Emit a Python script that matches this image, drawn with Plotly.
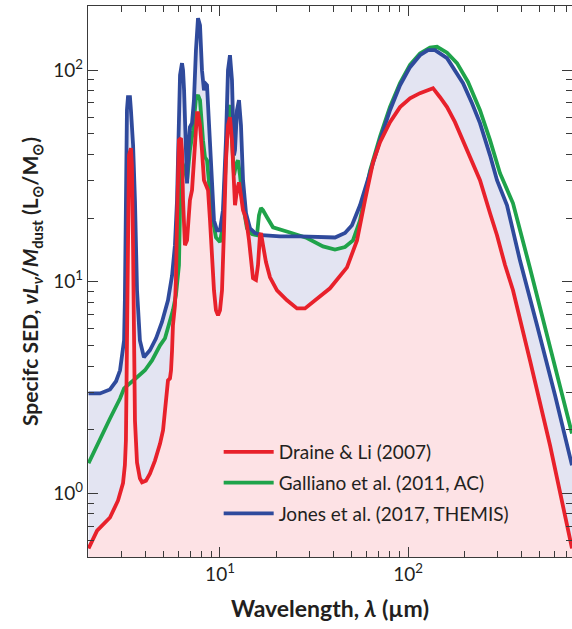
import numpy as np
import plotly.graph_objects as go

# ---------------- data ----------------
# Draine & Li (2007)
dl_lam = [2.0, 2.22, 2.60, 2.87, 3.05, 3.12, 3.16, 3.20, 3.24, 3.28, 3.36, 3.40, 3.45, 3.49, 3.53,
          3.62, 3.75, 3.85, 4.04, 4.24, 4.51, 4.80, 4.98, 5.10, 5.23, 5.29, 5.42, 5.49, 5.56, 5.62,
          5.76, 5.83, 5.91, 5.98, 6.05, 6.20, 6.28, 6.36, 6.44, 6.51, 6.68, 6.84, 6.92, 7.10, 7.27,
          7.45, 7.55, 7.64, 7.83, 8.02, 8.22, 8.43, 8.64, 8.85, 9.07, 9.29, 9.52, 9.76, 10.0, 10.25,
          10.50, 10.76, 11.03, 11.30, 11.58, 11.87, 12.02, 12.31, 12.62, 12.93, 13.26, 13.58, 13.92,
          14.27, 14.62, 14.98, 15.54, 15.93, 16.32, 16.52, 16.93, 17.56, 18.45, 20.10, 22.72, 25.68,
          28.32, 31.23, 38.46, 47.37, 53.55, 59.07, 65.15, 71.0, 80.2, 90.7, 102.5, 115.8, 135.8,
          148.0, 161.3, 177.8, 196.2, 219.0, 241.5, 273.1, 297.4, 328.1, 361.8, 445.6, 569.3, 745.2]
dl_sed = [0.550, 0.668, 0.770, 0.927, 1.12, 1.36, 1.78, 4.75, 24.3, 39.6, 42.8, 35.6, 14.1, 4.75, 2.21,
          1.40, 1.18, 1.13, 1.15, 1.24, 1.43, 1.72, 1.99, 2.47, 3.24, 3.42, 3.50, 3.82, 4.75, 6.23,
          7.74, 10.2, 19.5, 37.5, 46.7, 47.7, 41.9, 24.3, 16.6, 14.9, 15.7, 20.6, 24.3, 27.1, 37.5,
          58.0, 62.6, 62.6, 54.9, 41.9, 30.2, 28.6, 27.1, 19.5, 12.6, 9.12, 7.33, 6.94, 7.33, 9.12,
          17.5, 37.5, 54.9, 60.0, 46.7, 24.3, 23.0, 27.1, 29.5, 25.6, 21.8, 20.6, 18.5,
          15.7, 12.0, 10.4, 10.2, 12.0, 16.6, 17.0, 14.9, 12.4, 10.5, 9.12, 8.18, 7.49,
          7.49, 8.00, 9.32, 11.7, 15.7, 24.3, 36.7, 45.7, 56.8, 66.9, 73.7, 77.9, 82.2,
          74.5, 66.9, 56.8, 46.7, 37.5, 30.2, 21.1, 16.6, 12.0, 9.12, 4.25, 1.69, 0.550]

# Galliano et al. (2011, AC)
ga_lam = [2.0, 2.30, 2.60, 2.94, 3.09, 3.57, 3.99, 4.35, 4.80, 5.10,
          5.42, 5.62, 5.83, 6.05, 6.20, 6.36, 6.51, 6.68, 6.92, 7.19, 7.45, 7.64, 7.83, 8.12,
          8.32, 8.53, 8.74, 9.07, 9.52, 10.0, 10.37, 10.76, 11.03, 11.30, 11.58, 11.87, 12.17, 12.46,
          12.78, 13.26, 13.92, 14.80, 15.73, 16.12, 16.52, 16.93, 17.78, 19.14, 23.57, 29.02, 35.31,
          40.89, 46.23, 50.98, 55.56, 62.81, 71.0, 80.2, 90.7, 102.5, 115.8, 130.9, 142.7, 161.3,
          182.2, 208.5, 241.5, 273.1, 308.5, 361.8, 445.6, 569.3, 745.2]
ga_sed = [1.39, 1.82, 2.26, 2.81, 3.14, 3.50, 3.82, 4.25, 5.01, 5.41,
          6.44, 7.33, 8.64, 12.0, 38.0, 36.0, 33.7, 30.2, 41.9, 52.0, 73.7, 76.2, 72.1, 46.7,
          38.8, 37.5, 28.6, 20.6, 16.2, 15.4, 18.5, 41.9, 64.7, 68.3, 41.9, 31.9, 35.6, 37.5,
          31.9, 23.0, 17.9, 16.8, 16.6, 20.6, 22.3, 21.8, 20.2, 18.1, 17.1, 16.1, 14.7,
          14.2, 14.6, 15.7, 19.5, 33.5, 48.5, 67.0, 87.0, 106.0, 120.0, 128.0, 129.0, 121.0,
          108.0, 88.0, 64.7, 46.7, 32.6, 23.5, 11.6, 5.01, 1.92]

# Jones et al. (2017, THEMIS)
jo_lam = [2.0, 2.30, 2.60, 2.80, 2.94, 3.05, 3.09, 3.12, 3.16, 3.20, 3.24, 3.32, 3.36, 3.45, 3.53,
          3.62, 3.75, 3.94, 4.24, 4.57, 4.91, 5.29, 5.56, 5.76, 5.91, 6.05, 6.13, 6.28, 6.36, 6.44,
          6.60, 6.68, 6.84, 6.92, 7.10, 7.27, 7.45, 7.64, 7.83, 8.02, 8.22, 8.43, 8.53, 8.74, 8.96,
          9.29, 9.64, 10.0, 10.37, 10.76, 11.03, 11.30, 11.58, 11.87, 12.02, 12.31, 12.62, 12.93,
          13.26, 13.75, 14.44, 15.36, 16.72, 20.85, 26.65, 34.04, 40.89, 46.23, 50.36, 55.56, 62.81,
          71.0, 80.2, 90.7, 102.5, 115.8, 127.8, 139.2, 161.3, 177.8, 196.2, 219.0, 241.5, 273.1,
          297.4, 336.2, 394.2, 485.6, 605.4, 745.2]
jo_sed = [2.97, 2.97, 3.10, 3.39, 3.82, 4.75, 5.29, 8.18, 24.3, 64.7, 74.5, 74.5, 64.7, 44.2, 24.3,
          9.12, 5.29, 4.40, 4.75, 5.41, 6.44, 8.18, 10.7, 14.9, 24.3, 58.0, 94.7, 107.9, 100.0, 80.4,
          33.7, 29.2, 46.7, 53.8, 56.2, 72.1, 124.3, 176.0, 163.0, 100.0, 80.4, 85.9, 84.9, 58.0, 33.7,
          19.5, 17.5, 17.5, 21.8, 46.7, 100.0, 117.7, 89.7, 39.6, 41.9, 64.7, 72.1, 54.9,
          30.2, 21.1, 17.9, 17.0, 16.6, 16.4, 16.4, 16.2, 16.2, 17.0, 18.5, 23.0, 32.9,
          46.7, 64.7, 84.9, 103.3, 117.7, 124.3, 124.3, 113.9, 100.0, 86.8, 69.8, 56.2, 39.6,
          30.2, 23.0, 12.6, 6.23, 2.91, 1.36]

names = ["Draine & Li (2007)", "Galliano et al. (2011, AC)", "Jones et al. (2017, THEMIS)"]
x_ticks = [10, 100]
x_ticktext = ["10<sup>1</sup>", "10<sup>2</sup>"]
y_ticks = [1, 10, 100]
y_ticktext = ["10<sup>0</sup>", "10<sup>1</sup>", "10<sup>2</sup>"]

# ---------------- styling ----------------
RED, GREEN, BLUE = "#E8212B", "#1FA34A", "#2F4A9C"
PINK, LAV = "#FDE2E5", "#E3E4F2"
FONT = "Lato"
TXT = "#231F20"
AX = "#3a3a3a"

x_range = [np.log10(1.986), np.log10(745.2)]
y_range = [np.log10(0.501), np.log10(201.0)]
y_floor = 10 ** (y_range[0] - 0.3)

fig = go.Figure()
edges = [min(dl_lam[0], jo_lam[0]), max(dl_lam[-1], jo_lam[-1])]

# lavender area under Jones curve
fig.add_trace(go.Scatter(x=edges, y=[y_floor, y_floor], mode="lines", line=dict(width=0),
                         showlegend=False, hoverinfo="skip"))
fig.add_trace(go.Scatter(x=jo_lam, y=jo_sed, mode="lines", line=dict(width=0), fill="tonexty",
                         fillcolor=LAV, showlegend=False, hoverinfo="skip"))
# pink area under Draine & Li curve
fig.add_trace(go.Scatter(x=edges, y=[y_floor, y_floor], mode="lines", line=dict(width=0),
                         showlegend=False, hoverinfo="skip"))
fig.add_trace(go.Scatter(x=dl_lam, y=dl_sed, mode="lines", line=dict(width=0), fill="tonexty",
                         fillcolor=PINK, showlegend=False, hoverinfo="skip"))

fig.add_trace(go.Scatter(x=ga_lam, y=ga_sed, mode="lines", name=names[1], legendrank=2,
                         legendgroup="g", line=dict(color=GREEN, width=3.8)))
fig.add_trace(go.Scatter(x=jo_lam, y=jo_sed, mode="lines", name=names[2], legendrank=3,
                         legendgroup="j", line=dict(color=BLUE, width=3.8)))
fig.add_trace(go.Scatter(x=dl_lam, y=dl_sed, mode="lines", name=names[0], legendrank=1,
                         legendgroup="d", line=dict(color=RED, width=3.8)))

x_minor = [m * 10 ** e for e in range(0, 3) for m in range(2, 10)]
y_minor = [m * 10 ** e for e in range(-1, 3) for m in range(2, 10)]

axis_common = dict(type="log", showgrid=False, zeroline=False, showline=True, linecolor=AX,
                   linewidth=1.4, ticks="inside", ticklen=10, tickwidth=1.3, tickcolor=AX,
                   mirror="ticks", tickmode="array",
                   tickfont=dict(family=FONT, size=19, color=TXT))

fig.update_xaxes(**axis_common, range=x_range, tickvals=x_ticks, ticktext=x_ticktext,
                 minor=dict(tickmode="array", tickvals=x_minor, ticks="inside", ticklen=6,
                            tickwidth=1.2, tickcolor=AX),
                 title=dict(text="<b>Wavelength, <i>λ</i> (µm)</b>", standoff=16,
                            font=dict(family=FONT, size=23, color=TXT)))
fig.update_yaxes(**axis_common, range=y_range, tickvals=y_ticks, ticktext=y_ticktext,
                 minor=dict(tickmode="array", tickvals=y_minor, ticks="inside", ticklen=6,
                            tickwidth=1.2, tickcolor=AX),
                 title=dict(text="<b>Specifc SED, <i>νL</i><sub><i>ν</i></sub>/<i>M</i><sub>dust</sub> "
                                 "(L<sub>⊙</sub>/M<sub>⊙</sub>)</b>", standoff=8,
                            font=dict(family=FONT, size=21, color=TXT)))

fig.update_layout(
    width=572, height=629,
    margin=dict(l=88, r=0, t=6, b=72),
    paper_bgcolor="white", plot_bgcolor="white",
    showlegend=True,
    legend=dict(x=0.27, y=0.225, xanchor="left", yanchor="top", bgcolor="rgba(0,0,0,0)",
                font=dict(family=FONT, size=19, color=TXT), itemwidth=50,
                tracegroupgap=3, traceorder="grouped"),
)

fig.write_html("out.html")
